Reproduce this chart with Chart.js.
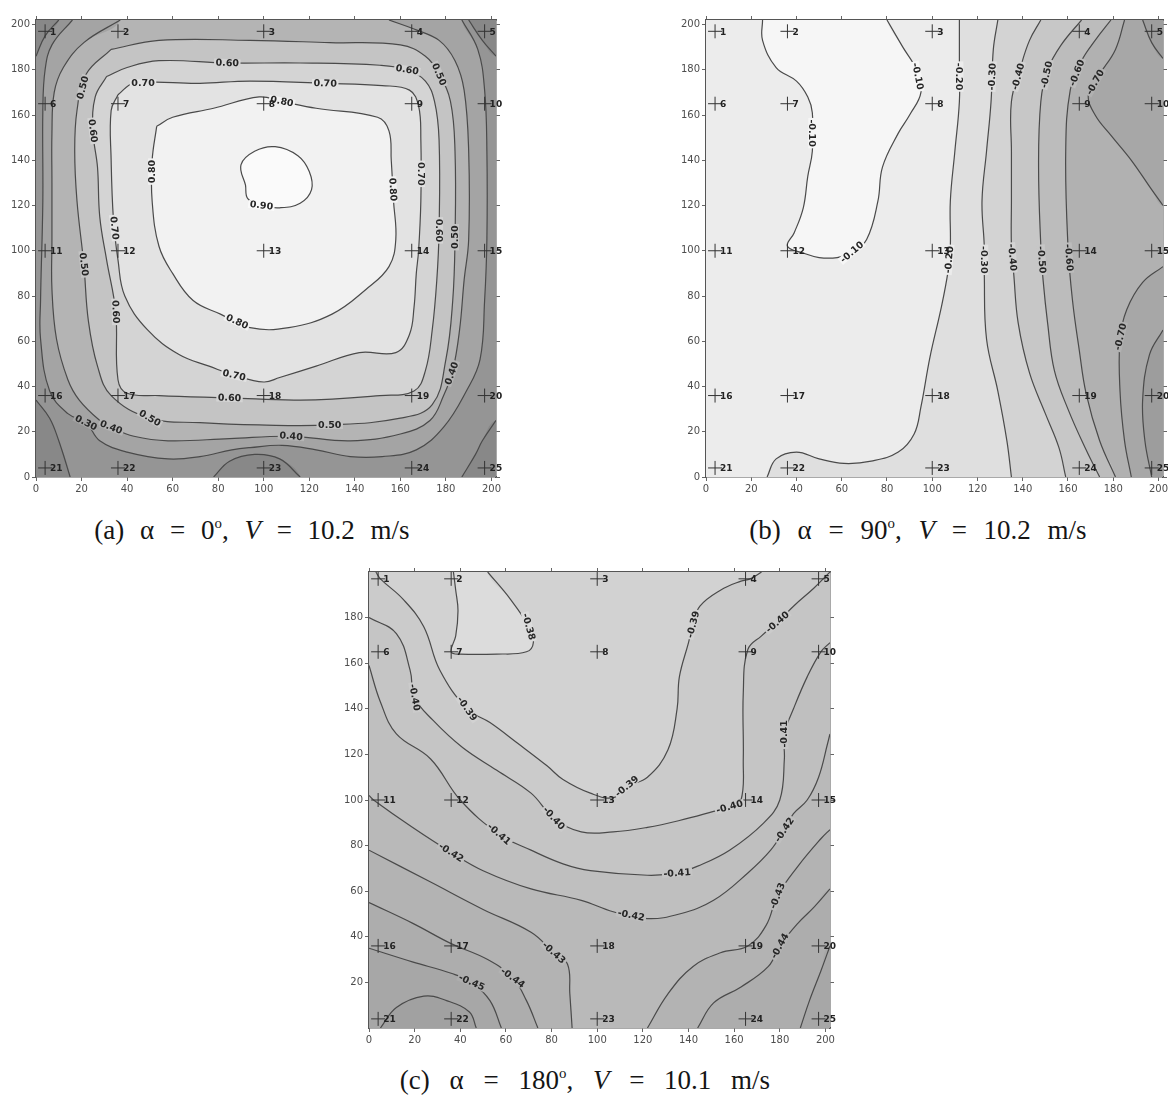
<!DOCTYPE html>
<html lang="en">
<head>
<meta charset="utf-8">
<title>Contour plots</title>
<script src="https://cdn.jsdelivr.net/npm/chart.js@4.4.1/dist/chart.umd.min.js"></script>
<style>
	html, body { margin: 0; background: #fff; }
	body { position: relative; width: 1168px; height: 1095px; overflow: hidden; }
	canvas { position: absolute; }
	.cap { position: absolute; width: 500px; text-align: center; font: 27px "Liberation Serif", "Times New Roman", serif; color: #151515; line-height: 30px; white-space: nowrap; }
	.cap sup { font-size: 55%; vertical-align: 0.75em; line-height: 0; }
</style>
</head>
<body>
<canvas id="chartA" width="510" height="500" style="left:0;top:0"></canvas>
<canvas id="chartB" width="505" height="500" style="left:670px;top:0"></canvas>
<canvas id="chartC" width="511" height="499" style="left:333px;top:552px"></canvas>
<div class="cap" style="left:2px;top:515px;word-spacing:9px">(a) α = 0<sup>o</sup>, <i>V</i> = 10.2 m/s</div>
<div class="cap" style="left:668px;top:515px;word-spacing:10px">(b) α = 90<sup>o</sup>, <i>V</i> = 10.2 m/s</div>
<div class="cap" style="left:335px;top:1065px;word-spacing:13px">(c) α = 180<sup>o</sup>, <i>V</i> = 10.1 m/s</div>
<script>
// axes
const xTicks = [0, 20, 40, 60, 80, 100, 120, 140, 160, 180, 200]
const yTicksAB = [0, 20, 40, 60, 80, 100, 120, 140, 160, 180, 200]
const yTicksC = [20, 40, 60, 80, 100, 120, 140, 160, 180]

// measuring taps 1..25 (row by row)
const pointX = [4, 36, 100, 165, 197]
const pointY = [197, 165, 100, 36, 4]

// (a) alpha = 0
const a90 = [[92, 129], [90, 138], [96, 144], [105, 146], [115, 142], [120, 135], [121, 127], [116, 121], [107, 119], [99, 120], [93, 123]]
const a80 = [[53, 155], [60, 159], [78, 163], [98, 168], [108, 166], [123, 163], [150, 159], [155, 153], [156, 140], [157, 122], [158, 105], [155, 93], [145, 83], [130, 72], [111, 66], [94, 66], [81, 72], [69, 78], [60, 90], [54, 102], [51, 122], [51, 140]]
const a70 = [[36, 169], [43, 174], [72, 174], [94, 175], [127, 174], [152, 173], [164, 171], [168, 164], [169, 149], [169, 122], [168, 100], [167, 90], [166, 75], [164, 63], [158, 55], [142, 55], [123, 49], [107, 44], [100, 42], [87, 45], [76, 49], [63, 54], [49, 65], [39, 80], [36, 96], [34, 114], [33, 140], [33, 162]]
const a60 = [[31, 177], [40, 181], [54, 184], [84, 183], [116, 183], [151, 182], [163, 180], [171, 175], [175, 166], [177, 149], [177, 109], [176, 87], [174, 65], [171, 47], [166, 38], [151, 36], [116, 34], [85, 35], [54, 36], [40, 37], [36, 43], [35, 73], [31, 96], [28, 115], [27, 137], [25, 153], [26, 168]]
const a50 = [[33, 189], [22, 178], [18, 162], [17, 144], [18, 122], [21, 94], [23, 69], [27, 49], [33, 36], [50, 26], [72, 24], [98, 23], [129, 23], [160, 26], [174, 32], [180, 52], [183, 78], [184, 105], [184, 144], [182, 166], [177, 178], [171, 186], [160, 191], [129, 192], [94, 193], [54, 193]]
const a40 = [[155, 202], [166, 198], [177, 193], [184, 184], [188, 171], [190, 144], [190, 105], [188, 87], [186, 65], [183, 47], [179, 36], [173, 25], [160, 19], [138, 16], [112, 18], [85, 17], [58, 16], [43, 18], [33, 22], [28, 25], [19, 34], [14, 43], [9, 61], [7, 83], [7, 105], [7, 130], [7, 152], [8, 170], [12, 181], [21, 192], [37, 202]]
const a30 = [[16, 202], [7, 191], [4, 180], [3, 162], [3, 122], [2, 78], [2, 61], [6, 38], [14, 28], [22, 24], [28, 16], [40, 11], [58, 8], [72, 9], [86, 12], [94, 13], [108, 14], [123, 12], [138, 9], [152, 9], [167, 12], [179, 22], [189, 38], [195, 52], [197, 78], [198, 105], [198, 144], [197, 171], [194, 189], [187, 202]]
const a20tl = [[0, 186], [4, 195], [10, 202]]
const a20tr = [[190, 202], [196, 193], [202, 186]]
const a20bl = [[0, 34], [6, 26], [10, 16], [15, 0]]
const a20bm = [[78, 0], [85, 7], [96, 10], [107, 8], [116, 0]]
const a20br = [[187, 0], [193, 10], [196, 16], [202, 25]]
const labelsA = [
	[99, 120],
	[108, 166], [51, 135], [156, 127], [88, 68],
	[47, 174], [127, 174], [169, 134], [34, 110], [87, 45],
	[84, 183], [25, 153], [35, 73], [85, 35], [177, 109], [163, 180],
	[21, 172], [21, 94], [50, 26], [129, 23], [184, 106], [177, 178],
	[33, 22], [112, 18], [182, 46],
	[22, 24],
]

// (b) alpha = 90
const b10 = [[25, 202], [25, 193], [31, 181], [40, 175], [45, 168], [47, 161], [47, 144], [45, 133], [43, 119], [39, 108], [36, 102], [43, 99], [50, 97], [58, 97], [64, 99], [71, 105], [76, 122], [78, 137], [85, 152], [90, 160], [95, 170], [93, 180], [87, 190], [80, 202]]
const b20 = [[112, 202], [112, 184], [112, 166], [110, 144], [108, 122], [108, 102], [107, 91], [104, 75], [99, 53], [95, 31], [92, 19], [85, 11], [73, 7], [61, 6], [50, 8], [40, 11], [31, 8], [27, 0]]
const b30 = [[129, 202], [127, 189], [126, 166], [124, 144], [122, 122], [123, 102], [123, 90], [124, 61], [129, 38], [133, 16], [135, 0]]
const b40 = [[148, 202], [143, 193], [139, 181], [135, 166], [135, 144], [135, 122], [135, 102], [136, 90], [138, 68], [143, 46], [150, 28], [156, 13], [159, 0]]
const b50 = [[166, 202], [157, 191], [151, 180], [148, 166], [147, 137], [148, 102], [149, 87], [151, 68], [154, 47], [160, 30], [168, 12], [174, 0]]
const b60 = [[179, 202], [172, 193], [166, 184], [161, 171], [159, 144], [160, 102], [162, 78], [165, 56], [168, 37], [174, 16], [181, 0]]
const b70a = [[185, 202], [181, 189], [174, 178], [169, 169], [172, 160], [179, 151], [188, 140], [197, 127], [202, 120]]
const b70b = [[202, 93], [193, 86], [186, 74], [183, 61], [183, 38], [185, 16], [188, 0]]
const b80a = [[193, 202], [197, 192], [202, 185]]
const b80b = [[202, 65], [196, 54], [193, 34], [194, 16], [197, 0]]
const labelsB = [
	[47, 152], [64, 100], [93, 177],
	[113, 177], [108, 96],
	[126, 177], [123, 96],
	[138, 177], [135, 97],
	[150, 178], [148, 96],
	[163, 179], [161, 97],
	[173, 174], [183, 62],
]

// (c) alpha = 180
const c38 = [[37, 200], [38, 192], [39, 183], [38, 172], [36, 165], [40, 164], [56, 164], [69, 165], [72, 169], [70, 176], [62, 188], [52, 200]]
const c39 = [[3, 200], [5, 197], [15, 188], [24, 176], [31, 157], [43, 140], [53, 134], [65, 125], [78, 115], [85, 109], [97, 103], [107, 101], [113, 106], [122, 110], [131, 122], [135, 140], [136, 154], [140, 169], [142, 177], [145, 185], [154, 192], [163, 196], [167, 197], [172, 200]]
const c40 = [[0, 180], [12, 173], [18, 157], [20, 145], [28, 135], [41, 123], [56, 113], [71, 103], [81, 92], [93, 86], [107, 86], [122, 88], [136, 91], [151, 95], [158, 97], [163, 100], [164, 118], [164, 147], [166, 166], [172, 172], [179, 178], [186, 185], [195, 193], [202, 200]]
const c41 = [[0, 159], [5, 143], [12, 129], [27, 118], [40, 100], [57, 85], [71, 78], [85, 72], [97, 69], [122, 67], [135, 68], [144, 71], [158, 78], [173, 90], [180, 100], [182, 118], [182, 129], [186, 140], [192, 154], [198, 165], [202, 169]]
const c42 = [[0, 102], [2, 100], [19, 88], [36, 77], [50, 69], [71, 61], [93, 56], [107, 51], [122, 48], [136, 50], [151, 56], [166, 68], [176, 78], [182, 87], [186, 94], [192, 100], [197, 110], [201, 125], [202, 129]]
const c43a = [[0, 78], [27, 64], [50, 52], [71, 42], [81, 33], [87, 28], [88, 15], [89, 0]]
const c43b = [[122, 0], [131, 15], [142, 27], [154, 33], [166, 36], [174, 45], [179, 58], [188, 71], [198, 83], [202, 87]]
const c44a = [[0, 55], [19, 46], [36, 37], [52, 30], [63, 22], [69, 12], [74, 0]]
const c44b = [[144, 0], [151, 11], [163, 18], [175, 27], [180, 36], [188, 46], [195, 53], [202, 61]]
const c45a = [[0, 35], [19, 29], [36, 24], [45, 20], [53, 12], [58, 0]]
const c45b = [[189, 0], [193, 12], [198, 25], [202, 36]]
const c46 = [[5, 0], [12, 9], [24, 14], [34, 12], [44, 7], [47, 0]]
const labelsC = [
	[70, 176],
	[43, 140], [113, 106], [142, 177],
	[20, 145], [81, 92], [158, 97], [179, 178],
	[57, 85], [135, 68], [182, 129],
	[36, 77], [115, 50], [182, 87],
	[81, 33], [179, 58],
	[63, 22], [180, 36],
	[45, 20],
]

const X_MAX = 202
const lo = -20
const hi = 224
const cornerPts = { tl: [lo, hi], tr: [hi, hi], br: [hi, lo], bl: [lo, lo] }

const panels = [
	{
		id: 'chartA', yMax: 202, yTicks: yTicksAB, padRight: 8, bg: '#959595',
		fills: [
			[a20tl, ['tl'], '#888888'],
			[a20tr, ['tr'], '#888888'],
			[a20bl, ['bl'], '#888888'],
			[a20br, ['br'], '#888888'],
			[a20bm, [], '#888888'],
			[a30, [], '#a4a4a4'],
			[a40, [], '#b4b4b4'],
			[a50, 'loop', '#c4c4c4'],
			[a60, 'loop', '#d4d4d4'],
			[a70, 'loop', '#e3e3e3'],
			[a80, 'loop', '#f2f2f2'],
			[a90, 'loop', '#fafafa'],
		],
		lines: [[a90, 0.9, true], [a80, 0.8, true], [a70, 0.7, true], [a60, 0.6, true], [a50, 0.5, true], [a40, 0.4], [a30, 0.3],
			[a20tl, 0.2], [a20tr, 0.2], [a20bl, 0.2], [a20bm, 0.2], [a20br, 0.2]],
		labels: labelsA,
	},
	{
		id: 'chartB', yMax: 202, yTicks: yTicksAB, padRight: 6, bg: '#ececec',
		fills: [
			[b10, [], '#f6f6f6'],
			[b20, ['br', 'tr'], '#dfdfdf'],
			[b30, ['br', 'tr'], '#d3d3d3'],
			[b40, ['br', 'tr'], '#c7c7c7'],
			[b50, ['br', 'tr'], '#bcbcbc'],
			[b60, ['br', 'tr'], '#b1b1b1'],
			[b70a, ['tr'], '#a7a7a7'],
			[b70b, ['br'], '#a7a7a7'],
			[b80a, ['tr'], '#9d9d9d'],
			[b80b, ['br'], '#9d9d9d'],
		],
		lines: [[b10, -0.1], [b20, -0.2], [b30, -0.3], [b40, -0.4], [b50, -0.5], [b60, -0.6], [b70a, -0.7], [b70b, -0.7], [b80a, -0.8], [b80b, -0.8]],
		labels: labelsB,
	},
	{
		id: 'chartC', yMax: 200, yTicks: yTicksC, padRight: 8, bg: '#d2d2d2',
		fills: [
			[c38, [], '#dcdcdc'],
			[c39, ['tr', 'br', 'bl', 'tl'], '#cbcbcb'],
			[c40, ['br', 'bl'], '#c5c5c5'],
			[c41, ['br', 'bl'], '#bfbfbf'],
			[c42, ['br', 'bl'], '#b9b9b9'],
			[c43a, ['bl'], '#b3b3b3'],
			[c43b, ['br'], '#b3b3b3'],
			[c44a, ['bl'], '#adadad'],
			[c44b, ['br'], '#adadad'],
			[c45a, ['bl'], '#a7a7a7'],
			[c45b, ['br'], '#a7a7a7'],
			[c46, [], '#a1a1a1'],
		],
		lines: [[c38, -0.38], [c39, -0.39], [c40, -0.4], [c41, -0.41], [c42, -0.42], [c43a, -0.43], [c43b, -0.43],
			[c44a, -0.44], [c44b, -0.44], [c45a, -0.45], [c45b, -0.45], [c46, -0.46]],
		labels: labelsC,
	},
]

// push an edge point just outside the plot so fills close cleanly
function edgeOut([x, y], yMax) {
	if (x <= 0.5) return [lo, y]
	if (x >= X_MAX - 0.5) return [hi, y]
	if (y <= 0.5) return [x, lo]
	if (y >= yMax - 0.5) return [x, hi]
	return [x, y]
}

function polygon(pts, corners, yMax) {
	if (corners === 'loop') return [...pts, pts[0]]
	return [...pts, edgeOut(pts[pts.length - 1], yMax), ...corners.map(c => cornerPts[c]), edgeOut(pts[0], yMax), pts[0]]
}

const toXY = pts => pts.map(([x, y]) => ({ x, y }))

function buildDatasets(p) {
	const sets = []
	const taps = []
	pointY.forEach(y => pointX.forEach(x => taps.push({ x, y })))
	sets.push({ data: taps, showLine: false, pointStyle: 'cross', pointRadius: 7, pointBorderColor: '#333', pointBorderWidth: 1, pointBackgroundColor: 'rgba(0,0,0,0)', clip: false })
	p.lines.forEach(([pts, level, loop]) => {
		sets.push({ data: toXY(loop ? [...pts, pts[0]] : pts), borderColor: '#4a4a4a', borderWidth: 1.2, pointRadius: 0, tension: 0.4, fill: false })
	})
	p.fills.slice().reverse().forEach(([pts, corners, color]) => {
		sets.push({ data: toXY(polygon(pts, corners, p.yMax)), borderWidth: 0, borderColor: 'rgba(0,0,0,0)', backgroundColor: color, fill: 'shape', pointRadius: 0, tension: 0.4 })
	})
	return sets
}

function scalesFor(p) {
	const setTicks = list => scale => {
		scale.ticks = list.map(value => ({ value }))
	}
	const base = max => ({
		type: 'linear',
		min: 0,
		max,
		z: 1,
		border: { display: true, color: '#555', width: 1.5 },
		grid: { drawOnChartArea: false, tickLength: 4, color: '#666', lineWidth: 1 },
		ticks: { font: { family: 'DejaVu Sans', size: 10 }, color: '#4d4d4d', padding: 2, autoSkip: false, maxRotation: 0 },
	})
	return {
		x: { ...base(X_MAX), position: 'bottom', afterBuildTicks: setTicks(xTicks), afterFit: s => { s.height = 23 } },
		x2: { ...base(X_MAX), position: 'top', afterBuildTicks: setTicks(xTicks), afterFit: s => { s.height = 6 }, ticks: { display: false } },
		y: { ...base(p.yMax), position: 'left', afterBuildTicks: setTicks(p.yTicks), afterFit: s => { s.width = 36 } },
		y2: { ...base(p.yMax), position: 'right', afterBuildTicks: setTicks(p.yTicks), afterFit: s => { s.width = 6 }, ticks: { display: false } },
	}
}

const areaBg = color => ({
	id: 'areaBg',
	beforeDatasetsDraw(chart) {
		const { ctx, chartArea: a } = chart
		ctx.save()
		ctx.fillStyle = color
		ctx.fillRect(a.left, a.top, a.width, a.height)
		ctx.restore()
	},
})

// level labels sit on their line, turned along it, with the line broken under them
const contourLabels = p => ({
	id: 'contourLabels',
	afterDatasetsDraw(chart) {
		const { ctx, scales: { x, y } } = chart
		const lines = p.lines.map(([pts, level, loop]) => ({
			level,
			px: (loop ? [...pts, pts[0]] : pts).map(([a, b]) => [x.getPixelForValue(a), y.getPixelForValue(b)]),
		}))
		ctx.save()
		ctx.font = 'bold 9.5px "DejaVu Sans"'
		ctx.textAlign = 'center'
		ctx.textBaseline = 'middle'
		p.labels.forEach(([vx, vy]) => {
			const px = x.getPixelForValue(vx)
			const py = y.getPixelForValue(vy)
			let best = null
			lines.forEach(line => {
				for (let i = 0; i < line.px.length - 1; i++) {
					const [x1, y1] = line.px[i]
					const [x2, y2] = line.px[i + 1]
					const dx = x2 - x1
					const dy = y2 - y1
					const t = Math.max(0, Math.min(1, ((px - x1) * dx + (py - y1) * dy) / (dx * dx + dy * dy || 1)))
					const qx = x1 + t * dx
					const qy = y1 + t * dy
					const d = Math.hypot(px - qx, py - qy)
					if (!best || d < best.d) best = { d, qx, qy, dx, dy, level: line.level }
				}
			})
			if (!best) return
			let ang = Math.atan2(best.dy, best.dx)
			if (ang > Math.PI / 2) ang -= Math.PI
			if (ang < -Math.PI / 2) ang += Math.PI
			const len = Math.hypot(best.dx, best.dy) || 1
			const nx = -best.dy / len
			const ny = best.dx / len
			const sample = s => ctx.getImageData(Math.round(best.qx + nx * 7 * s), Math.round(best.qy + ny * 7 * s), 1, 1).data
			const s1 = sample(1)
			const s2 = sample(-1)
			const c = s1[0] + s1[1] + s1[2] >= s2[0] + s2[1] + s2[2] ? s1 : s2
			const text = best.level.toFixed(2)
			const w = ctx.measureText(text).width
			ctx.save()
			ctx.translate(best.qx, best.qy)
			ctx.rotate(ang)
			ctx.fillStyle = `rgb(${c[0]},${c[1]},${c[2]})`
			ctx.fillRect(-w / 2 - 1.5, -4, w + 3, 8)
			ctx.fillStyle = '#262626'
			ctx.fillText(text, 0, 0.5)
			ctx.restore()
		})
		ctx.restore()
	},
})

const tapNumbers = {
	id: 'tapNumbers',
	afterDatasetsDraw(chart) {
		const { ctx, scales: { x, y } } = chart
		ctx.save()
		ctx.font = 'bold 9px "DejaVu Sans"'
		ctx.fillStyle = '#222'
		ctx.textBaseline = 'middle'
		pointY.forEach((vy, r) => pointX.forEach((vx, c) => {
			ctx.fillText(String(r * pointX.length + c + 1), x.getPixelForValue(vx) + 5, y.getPixelForValue(vy) + 1)
		}))
		ctx.restore()
	},
}

panels.forEach(p => {
	new Chart(document.getElementById(p.id), {
		type: 'line',
		data: { datasets: buildDatasets(p) },
		options: {
			responsive: false,
			animation: false,
			events: [],
			layout: { padding: { top: 14, right: p.padRight, bottom: 0, left: 0 } },
			scales: scalesFor(p),
			plugins: { legend: { display: false }, tooltip: { enabled: false } },
		},
		plugins: [areaBg(p.bg), contourLabels(p), tapNumbers],
	})
})
</script>
</body>
</html>
